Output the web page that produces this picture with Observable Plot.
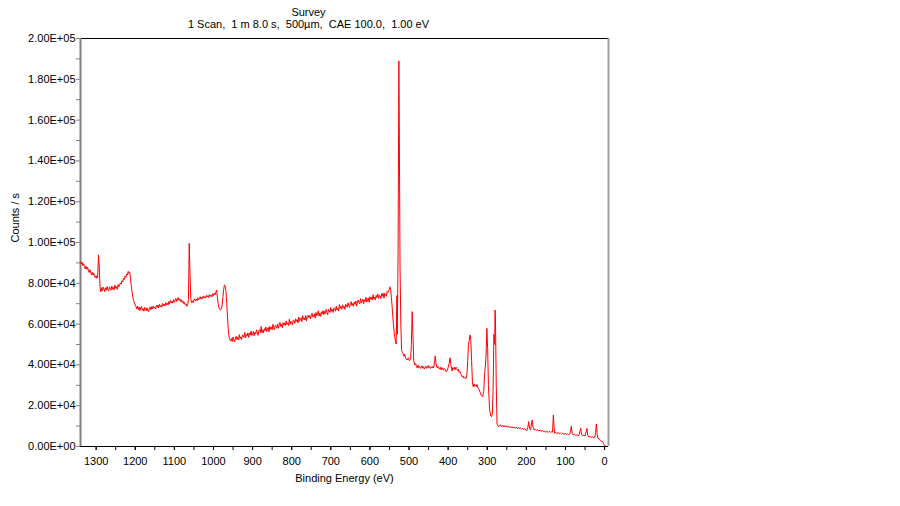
<!DOCTYPE html>
<html>
<head>
<meta charset="utf-8">
<script src="https://cdn.jsdelivr.net/npm/d3@7"></script>
<script src="https://cdn.jsdelivr.net/npm/@observablehq/plot@0.6"></script>
<style>
  html, body { margin: 0; padding: 0; background: #fff; }
  #chart { width: 900px; height: 506px; }
</style>
</head>
<body>
<div id="chart"></div>
<script>
const titleText = "Survey";
const subtitleText = "1 Scan,  1 m 8.0 s,  500µm,  CAE 100.0,  1.00 eV";
const xLabel = "Binding Energy (eV)";
const yLabel = "Counts / s";
const xTicks = [1300, 1200, 1100, 1000, 900, 800, 700, 600, 500, 400, 300, 200, 100, 0];
const xMinorTicks = [1300, 1250, 1200, 1150, 1100, 1050, 1000, 950, 900, 850, 800, 750, 700, 650, 600, 550, 500, 450, 400, 350, 300, 250, 200, 150, 100, 50, 0];
const yTicks = [0, 20000, 40000, 60000, 80000, 100000, 120000, 140000, 160000, 180000, 200000];
const yMinorTicks = [10000, 30000, 50000, 70000, 90000, 110000, 130000, 150000, 170000, 190000];

// [binding energy (eV), counts/s]
const highBE = [
  [1340, 90600], [1338, 89400], [1336, 90300], [1334, 88700], [1332, 89600], [1330, 88200],
  [1328, 87100], [1326, 88400], [1324, 86900], [1322, 87800], [1320, 86400], [1318, 85300],
  [1316, 86700], [1314, 85500], [1312, 84200], [1310, 85400], [1308, 84000], [1306, 84900],
  [1304, 83600], [1302, 82800], [1300, 83700], [1298, 82400], [1296, 84000], [1294, 93900],
  [1292, 88000], [1290, 78000], [1288, 75800], [1286, 77900], [1284, 76300], [1282, 78100],
  [1280, 77200], [1278, 75900], [1276, 77800], [1274, 76700], [1272, 78400], [1270, 77000],
  [1268, 76200], [1266, 78300], [1264, 77400], [1262, 76600], [1260, 78700], [1258, 77100],
  [1256, 78000], [1254, 76800], [1252, 79100], [1250, 77600], [1248, 78300], [1246, 77000],
  [1244, 79400], [1242, 78200], [1240, 79000], [1238, 80200], [1236, 79600], [1234, 81300],
  [1232, 80800], [1230, 82400], [1228, 81900], [1226, 83500], [1224, 82900], [1222, 84600],
  [1220, 84100], [1218, 85900], [1216, 84800], [1214, 85300], [1212, 82000], [1210, 78500],
  [1208, 75500], [1206, 73000], [1204, 71400], [1202, 70200], [1200, 69400],
  [1198, 68600], [1196, 67400], [1194, 68900], [1192, 67100], [1190, 68300], [1188, 66600],
  [1186, 67900], [1184, 68700], [1182, 66800], [1180, 67600], [1178, 66300], [1176, 68200],
  [1174, 67300], [1172, 66500], [1170, 68000], [1168, 66900], [1166, 66100], [1164, 67800],
  [1162, 68400], [1160, 67000], [1158, 68600], [1156, 67500], [1154, 68900], [1152, 67800],
  [1150, 68300], [1148, 67400], [1146, 69100], [1144, 68200], [1142, 69400], [1140, 68000],
  [1138, 69700], [1136, 68600], [1134, 69200], [1132, 68300], [1130, 70100], [1128, 69000],
  [1126, 69800], [1124, 68900], [1122, 70600], [1120, 69500], [1118, 70200], [1116, 69300],
  [1114, 71100], [1112, 70000], [1110, 71500], [1108, 70400], [1106, 71200], [1104, 70300],
  [1102, 72000], [1100, 70800], [1098, 71700], [1096, 72600], [1094, 71100], [1092, 72300],
  [1090, 73000], [1088, 71600], [1086, 72400], [1084, 71000], [1082, 71900], [1080, 70600],
  [1078, 71300], [1076, 70000], [1074, 70700], [1072, 69400], [1070, 69900], [1068, 68700],
  [1066, 69600], [1064, 72000], [1062, 99600], [1060, 85000], [1058, 72500], [1056, 70600],
  [1054, 71400], [1052, 70500], [1050, 71800], [1048, 72400], [1046, 71300], [1044, 72100],
  [1042, 71500], [1040, 72900], [1038, 71900], [1036, 72600], [1034, 73400], [1032, 72200],
  [1030, 73100], [1028, 72500], [1026, 73800], [1024, 72800], [1022, 73500], [1020, 72700],
  [1018, 74100], [1016, 73300], [1014, 74000], [1012, 73000], [1010, 74500], [1008, 73600],
  [1006, 74200], [1004, 73400], [1002, 74900], [1000, 74000], [998, 75100], [996, 74300],
  [994, 75600], [992, 76700], [990, 73000], [988, 70000], [986, 68000], [984, 67200],
  [982, 66900], [980, 67800], [978, 69000], [976, 73000], [974, 77000], [972, 79200],
  [970, 78500], [968, 76000], [966, 70000], [964, 63000], [962, 57000], [960, 53500],
  [958, 52300], [956, 51800]
];

const midBE = [
  [954, 52900], [952, 51500], [950, 53700], [948, 52300], [946, 51200], [944, 53200],
  [942, 54000], [940, 52400], [938, 53400], [936, 52200], [934, 54800], [932, 53000],
  [930, 53700], [928, 52400], [926, 54700], [924, 54300], [922, 53500], [920, 55900],
  [918, 53300], [916, 54900], [914, 54300], [912, 55700], [910, 53400], [908, 55600],
  [906, 54600], [904, 56600], [902, 54400], [900, 55300], [898, 56300], [896, 54300],
  [894, 56000], [892, 55100], [890, 57200], [888, 55900], [886, 54500], [884, 56800],
  [882, 57300], [880, 55900], [878, 58800], [876, 55800], [874, 57200], [872, 55700],
  [870, 57800], [868, 56800], [866, 58600], [864, 56400], [862, 57700], [860, 58300],
  [858, 56200], [856, 58900], [854, 57500], [852, 58500], [850, 57200], [848, 59900],
  [846, 58200], [844, 57200], [842, 59500], [840, 59000], [838, 58100], [836, 60100],
  [834, 57900], [832, 59300], [830, 60800], [828, 58800], [826, 59900], [824, 58200],
  [822, 60700], [820, 59500], [818, 60600], [816, 59200], [814, 61500], [812, 59800],
  [810, 60600], [808, 59300], [806, 62400], [804, 59900], [802, 61400], [800, 60800],
  [798, 59600], [796, 62100], [794, 61700], [792, 60400], [790, 62600], [788, 61300],
  [786, 62200], [784, 60600], [782, 63400], [780, 61400], [778, 62300], [776, 63100],
  [774, 61200], [772, 64100], [770, 62300], [768, 63100], [766, 62000], [764, 64200],
  [762, 61500], [760, 63700], [758, 64300], [756, 63200], [754, 64300], [752, 62600],
  [750, 64100], [748, 65300], [746, 63400], [744, 63900], [742, 65100], [740, 62900],
  [738, 65700], [736, 64100], [734, 64800], [732, 66500], [730, 64000], [728, 65400],
  [726, 63800], [724, 66000], [722, 65100], [720, 66600], [718, 64600], [716, 66300],
  [714, 65100], [712, 67200], [710, 65800], [708, 64600], [706, 67300], [704, 66600],
  [702, 65700], [700, 68100], [698, 66300], [696, 67100], [694, 65700], [692, 68000],
  [690, 67700], [688, 66300], [686, 68800], [684, 66900], [682, 67700], [680, 66400],
  [678, 69600], [676, 67700], [674, 68700], [672, 67300], [670, 69500], [668, 67900],
  [666, 68700], [664, 67200], [662, 69700], [660, 69300], [658, 68200], [656, 70400],
  [654, 69100], [652, 68200], [650, 70100], [648, 71000], [646, 69000], [644, 70100],
  [642, 68700], [640, 70900], [638, 69700], [636, 71300], [634, 68800], [632, 70900],
  [630, 71800], [628, 70400], [626, 69900], [624, 72500], [622, 70300], [620, 71300],
  [618, 72200], [616, 70000], [614, 71900], [612, 71100], [610, 73100], [608, 70800],
  [606, 72000], [604, 72800], [602, 70700], [600, 73400], [598, 72200], [596, 73100],
  [594, 71800], [592, 74400], [590, 72200], [588, 73200], [586, 71900], [584, 74100],
  [582, 73000], [580, 74800], [578, 72600], [576, 74100], [574, 73900], [572, 72500],
  [570, 75000], [568, 73600], [566, 75100], [564, 72700], [562, 75100], [560, 74600],
  [558, 73600], [556, 76000], [554, 75500], [552, 76500], [550, 77200], [549, 78300],
  [547, 76800], [545, 73000], [543, 68000], [540, 60000], [537, 54000], [534, 51000],
  [533, 50200], [531, 74000], [530, 55000], [528, 95000], [526, 189000], [525, 160000],
  [523, 88000], [521, 60000], [519, 47000]
];

const lowBE = [
  [516, 46000], [513, 44200], [511, 45300], [508, 43000], [505, 42400], [502, 43500],
  [499, 42000], [496, 43000], [494, 50000], [492, 66100], [490, 55000], [488, 42000],
  [485, 40000], [483, 40600], [481, 39200], [479, 38500], [477, 39800], [475, 38700],
  [473, 39300], [471, 38200], [469, 38900], [467, 39600], [465, 38400], [463, 39100],
  [461, 38000], [459, 38800], [457, 39400], [455, 38300], [453, 38900], [451, 39700],
  [449, 38600], [447, 39200], [445, 38300], [443, 39000], [441, 38500], [439, 39300],
  [437, 38600], [435, 41000], [433, 44400], [431, 40500], [428, 38500], [426, 39300],
  [424, 38600], [422, 37900], [420, 38800], [418, 37600], [416, 38700], [414, 37900],
  [412, 37400], [410, 38300], [408, 37800], [406, 36900], [404, 36700], [401, 38000],
  [397, 41000], [395, 43500], [393, 40000], [390, 37000], [388, 38700], [386, 37900],
  [384, 38800], [382, 37600], [380, 38900], [378, 38200], [376, 37300], [374, 37900],
  [372, 36400], [370, 36900], [368, 35600], [366, 35200], [364, 34100], [362, 34600],
  [360, 33500], [358, 33900], [355, 33200], [352, 35000], [350, 42000], [348, 50000],
  [346, 52000], [344, 54700], [342, 52000], [340, 42000], [338, 32000], [336, 29300],
  [334, 30700], [332, 29500], [330, 30200], [328, 29400], [326, 30400], [324, 28900],
  [321, 28000], [318, 26500], [315, 25000], [312, 24400], [309, 27000], [307, 35000],
  [305, 39100], [303, 45000], [301, 57900], [299, 48000], [297, 30000], [294, 18000],
  [291, 15000], [289, 14600], [287, 16000], [285, 28000], [283, 55000], [281, 50000],
  [280, 66900], [279, 62000], [277, 30000], [275, 11000], [273, 10500], [271, 9700],
  [269, 10300], [266, 10600], [264, 9800], [262, 10200], [259, 9700], [257, 10300],
  [254, 9600], [252, 10100], [249, 9500], [246, 9900], [244, 9300], [242, 9800],
  [239, 9200], [236, 9700], [234, 9100], [231, 9500], [228, 8900], [226, 9400],
  [223, 8800], [220, 9300], [218, 8700], [215, 9100], [212, 8500], [210, 8900],
  [207, 8300], [204, 8700], [202, 8200], [199, 7700], [196, 9500], [194, 12200],
  [192, 9000], [189, 8200], [187, 11000], [185, 13000], [183, 9500], [180, 8100],
  [177, 8500], [174, 7900], [171, 8200], [168, 7600], [165, 8000], [162, 7400],
  [159, 7800], [156, 7200], [153, 7500], [150, 7000], [147, 7400], [144, 6900],
  [141, 7500], [138, 6900], [135, 7300], [133, 7100], [131, 15400], [130, 12000],
  [128, 6600], [125, 6900], [122, 6400], [119, 6800], [116, 6300], [113, 6600],
  [110, 6100], [107, 6500], [104, 6000], [101, 6400], [98, 5900], [95, 6200],
  [92, 5800], [89, 6100], [87, 7500], [85, 10000], [83, 6500], [80, 5600],
  [77, 6000], [74, 5400], [71, 5800], [68, 5300], [65, 5700], [63, 7500],
  [61, 8900], [59, 6000], [56, 5300], [53, 5600], [50, 5100], [47, 7400],
  [45, 8900], [43, 5400], [40, 4600], [37, 4900], [34, 4400], [31, 4700],
  [28, 4300], [25, 4500], [23, 7000], [21, 11000], [19, 6000], [17, 4000],
  [14, 3800], [11, 3000], [8, 2600], [5, 2400], [3, 1500], [1, 800],
  [-1, 300], [-3, 200]
];

const spectrum = highBE.concat(midBE, lowBE);

function sci(d) {
  if (d === 0) return "0.00E+00";
  const e = Math.floor(Math.log10(Math.abs(d)));
  const m = d / Math.pow(10, e);
  return m.toFixed(2) + "E" + (e < 0 ? "-" : "+") + String(Math.abs(e)).padStart(2, "0");
}

const chart = Plot.plot({
  width: 900,
  height: 506,
  marginLeft: 80,
  marginRight: 292,
  marginTop: 38,
  marginBottom: 60,
  style: { fontFamily: "'Liberation Sans', Arial, sans-serif", fontSize: "11px", background: "#fff", color: "#000" },
  x: { domain: [1340, -10] },
  y: { domain: [0, 200000] },
  marks: [
    Plot.ruleY([200000], { stroke: "#000", strokeWidth: 1 }),
    Plot.ruleX([-10], { stroke: "#a0a0a0", strokeWidth: 2 }),
    Plot.axisY(yMinorTicks, { tickSize: 4, tickFormat: () => "", label: null, stroke: "#808080" }),
    Plot.axisY(yTicks, { tickSize: 4, tickPadding: 1, tickFormat: sci, label: null, stroke: "#808080", fill: "#000" }),
    Plot.axisX(xMinorTicks, { tickSize: 4, tickFormat: () => "", label: null, stroke: "#000" }),
    Plot.axisX(xTicks, { tickSize: 4, tickPadding: 7, tickFormat: d => String(d), label: null, stroke: "#000", fill: "#000" }),
    Plot.ruleX([1340], { stroke: "#808080", strokeWidth: 2 }),
    Plot.ruleY([0], { stroke: "#000", strokeWidth: 1 }),
    Plot.line(spectrum, { x: d => d[0], y: d => d[1], stroke: "#ff0000", strokeWidth: 1, clip: true }),
    Plot.text([xLabel], { text: d => d, frameAnchor: "bottom", dy: 35, fill: "#000" }),
    Plot.text([yLabel], { text: d => d, frameAnchor: "left", dx: -65, rotate: -90, fill: "#000" }),
    Plot.text([titleText], { text: d => d, frameAnchor: "top", dx: -36, dy: -30, fill: "#000" }),
    Plot.text([subtitleText], { text: d => d, frameAnchor: "top", dx: -36, dy: -18, fill: "#000" })
  ]
});
chart.querySelectorAll("text").forEach(t => t.setAttribute("xml:space", "preserve"));
chart.style.whiteSpace = "pre";
document.getElementById("chart").appendChild(chart);
</script>
</body>
</html>
